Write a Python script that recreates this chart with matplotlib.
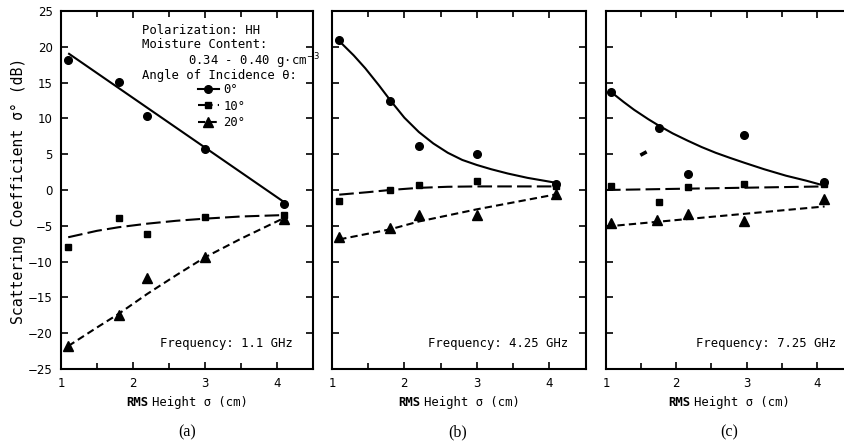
import numpy as np
import matplotlib
matplotlib.use("Agg")
import matplotlib.pyplot as plt
from matplotlib.lines import Line2D
from matplotlib.legend_handler import HandlerLine2D
from matplotlib.offsetbox import TextArea, HPacker, AnnotationBbox
from matplotlib.path import Path

# ---------------- data ----------------
# measured points (x = RMS height, cm; y = sigma0, dB)
a_x0 = [1.1, 1.8, 2.2, 3.0, 4.1]
a_y0 = [18.2, 15.1, 10.4, 5.7, -1.9]
a_x10 = [1.1, 1.8, 2.2, 3.0, 4.1]
a_y10 = [-8.0, -3.9, -6.1, -3.8, -3.5]
a_x20 = [1.1, 1.8, 2.2, 3.0, 4.1]
a_y20 = [-21.8, -17.4, -12.3, -9.3, -4.0]

b_x0 = [1.1, 1.8, 2.2, 3.0, 4.1]
b_y0 = [20.9, 12.4, 6.1, 5.0, 0.9]
b_x10 = [1.1, 1.8, 2.2, 3.0, 4.1]
b_y10 = [-1.6, 0.0, 0.7, 1.2, 0.6]
b_x20 = [1.1, 1.8, 2.2, 3.0, 4.1]
b_y20 = [-6.5, -5.3, -3.5, -3.5, -0.5]

c_x0 = [1.07, 1.75, 2.17, 2.97, 4.1]
c_y0 = [13.7, 8.7, 2.2, 7.7, 1.1]
c_x10 = [1.07, 1.75, 2.17, 2.97, 4.1]
c_y10 = [0.6, -1.7, 0.4, 0.8, 0.9]
c_x20 = [1.07, 1.72, 2.17, 2.97, 4.1]
c_y20 = [-4.6, -4.2, -3.3, -4.3, -1.3]
c_xstray = [1.52]
c_ystray = [5.1]

# fitted curves
a_fx0 = [1.1, 4.1]
a_fy0 = [19.1, -1.7]
a_fx10 = [1.1, 1.5, 1.8, 2.2, 2.6, 3.0, 3.5, 4.1]
a_fy10 = [-6.6, -5.7, -5.2, -4.7, -4.3, -4.0, -3.7, -3.5]
a_fx20 = [1.1, 1.5, 1.8, 2.2, 2.6, 3.0, 3.5, 4.1]
a_fy20 = [-21.8, -19.2, -17.3, -14.5, -11.9, -9.4, -6.8, -3.9]

b_fx0 = [1.1, 1.3, 1.46, 1.65, 1.8, 2.0, 2.2, 2.4, 2.6, 2.8, 3.0, 3.2, 3.43, 3.7, 4.1]
b_fy0 = [20.8, 18.8, 17.0, 14.6, 12.6, 10.1, 8.1, 6.5, 5.2, 4.2, 3.5, 2.9, 2.3, 1.7, 1.0]
b_fx10 = [1.1, 1.5, 1.8, 2.2, 2.6, 3.0, 4.1]
b_fy10 = [-0.65, -0.3, 0.0, 0.3, 0.45, 0.5, 0.5]
b_fx20 = [1.1, 1.8, 2.2, 3.0, 4.1]
b_fy20 = [-6.9, -5.5, -4.4, -2.7, -0.6]

c_fx0 = [1.07, 1.25, 1.4, 1.6, 1.75, 1.95, 2.16, 2.36, 2.56, 2.76, 2.97, 3.25, 3.56, 3.85, 4.11]
c_fy0 = [13.7, 12.3, 11.2, 9.9, 9.0, 7.9, 6.9, 6.0, 5.2, 4.5, 3.8, 2.9, 2.0, 1.3, 0.6]
c_fx10 = [1.0, 4.11]
c_fy10 = [0.0, 0.5]
c_fx20 = [1.0, 4.11]
c_fy20 = [-5.1, -2.3]

y_ticks = [-25, -20, -15, -10, -5, 0, 5, 10, 15, 20, 25]
x_ticks = [1, 2, 3, 4]
x_minor = [1.5, 2.5, 3.5]
legend_labels = ["0°", "10°", "20°"]
freq_labels = ["Frequency: 1.1 GHz", "Frequency: 4.25 GHz", "Frequency: 7.25 GHz"]
panel_labels = ["(a)", "(b)", "(c)"]

# ---------------- style ----------------
MONO = "DejaVu Sans Mono"
plt.rcParams["font.family"] = ["DejaVu Sans"]
W, H = 844, 448
fig = plt.figure(figsize=(W / 100, H / 100), dpi=100)
fig.patch.set_facecolor("white")

def add_ax(l, r, t, b):
    return fig.add_axes([l / W, 1 - b / H, (r - l) / W, (b - t) / H])

axes = [add_ax(61, 313, 11, 369), add_ax(332, 586, 11, 369), add_ax(606, 852, 11, 369)]
xlims = [(1, 4.5), (1, 4.51), (1, 4.5)]

LW = 1.5
styles = {
    0: dict(ls="-", marker="o", ms=5.5),
    10: dict(ls=(0, (7, 2.5)), marker="s", ms=5),
    20: dict(ls=(0, (3.5, 2)), marker="^", ms=6.5),
}

data = [
    (a_x0, a_y0, a_x10, a_y10, a_x20, a_y20, a_fx0, a_fy0, a_fx10, a_fy10, a_fx20, a_fy20),
    (b_x0, b_y0, b_x10, b_y10, b_x20, b_y20, b_fx0, b_fy0, b_fx10, b_fy10, b_fx20, b_fy20),
    (c_x0, c_y0, c_x10, c_y10, c_x20, c_y20, c_fx0, c_fy0, c_fx10, c_fy10, c_fx20, c_fy20),
]
freq_x = [(293 - 61) / 252, (568 - 332) / 254, (836 - 606) / 246]

for i, ax in enumerate(axes):
    (x0, y0, x10, y10, x20, y20, fx0, fy0, fx10, fy10, fx20, fy20) = data[i]
    for fx, fy, key in ((fx0, fy0, 0), (fx10, fy10, 10), (fx20, fy20, 20)):
        ax.plot(fx, fy, color="black", lw=LW, ls=styles[key]["ls"], solid_capstyle="butt",
                solid_joinstyle="round")
    for x, y, key in ((x0, y0, 0), (x10, y10, 10), (x20, y20, 20)):
        ax.plot(x, y, ls="none", marker=styles[key]["marker"], ms=styles[key]["ms"],
                color="black", mec="black")
    ax.set_xlim(*xlims[i])
    ax.set_ylim(-25, 25)
    ax.set_xticks(x_ticks)
    ax.set_xticks(x_minor, minor=True)
    ax.set_yticks(y_ticks)
    ax.tick_params(which="both", direction="in", top=True, right=(i < 2), width=1.2)
    ax.tick_params(which="major", length=5, labelsize=8.5, pad=6)
    ax.tick_params(which="minor", length=4)
    if i > 0:
        ax.set_yticklabels([])
    for s in ax.spines.values():
        s.set_linewidth(1.5)
    if i == 2:
        ax.spines["right"].set_visible(False)
    ax.text(freq_x[i], 0.07, freq_labels[i], transform=ax.transAxes, ha="right",
            va="center", family=MONO, fontsize=8.8)
    # x label with bold "RMS"
    box = HPacker(children=[TextArea("RMS", textprops=dict(family=MONO, weight="bold", size=8.8)),
                            TextArea("Height σ (cm)", textprops=dict(family=MONO, size=8.8))],
                  align="baseline", pad=0, sep=3)
    ab = AnnotationBbox(box, (0.5, (369 - 402) / 358), xycoords="axes fraction",
                        frameon=False, box_alignment=(0.5, 0.5), annotation_clip=False)
    ax.add_artist(ab)

# stray mark in panel c
stray = Path([(-1, -0.55), (1, 0.55)], [Path.MOVETO, Path.LINETO])
axes[2].plot(c_xstray, c_ystray, ls="none", marker=stray, ms=4.5, mew=2.6, color="black",
             solid_capstyle="round")

# y label
fig.text(18 / W, 1 - 191 / H, "Scattering Coefficient σ° (dB)", rotation=90,
         ha="center", va="center", family=MONO, fontsize=10.6)

# panel labels
for ax, lab in zip(axes, panel_labels):
    pos = ax.get_position()
    cx = (pos.x0 + min(pos.x1, (pos.x0 * W + 252) / W)) / 2
    fig.text(cx, 1 - 432 / H, lab, ha="center", va="center",
             family="Liberation Serif", fontsize=11.5)

# annotation block in panel a
ax = axes[0]
tx = (142 - 61) / 252
ax.text(tx, (369 - 30) / 358, "Polarization: HH", transform=ax.transAxes, family=MONO,
        fontsize=8.8, va="center", ha="left")
ax.text(tx, (369 - 44) / 358, "Moisture Content:", transform=ax.transAxes, family=MONO,
        fontsize=8.8, va="center", ha="left")
ax.text((188 - 61) / 252, (369 - 61) / 358, "0.34 - 0.40 g·cm$^{-3}$", transform=ax.transAxes,
        family=MONO, fontsize=8.8, va="center", ha="left")
ax.text(tx, (369 - 76) / 358, "Angle of Incidence θ:", transform=ax.transAxes, family=MONO,
        fontsize=8.8, va="center", ha="left")


class LeftMarkerHandler(HandlerLine2D):
    def get_xdata(self, legend, xdescent, ydescent, width, height, fontsize):
        return [-xdescent, -xdescent + width], [-xdescent]


handles = [Line2D([], [], color="black", lw=LW, ls=styles[k]["ls"], marker=styles[k]["marker"],
                  ms=styles[k]["ms"]) for k in (0, 10, 20)]
leg = ax.legend(handles, legend_labels, loc="upper left",
                bbox_to_anchor=((198 - 61) / 252, (369 - 83) / 358),
                frameon=False, borderpad=0, borderaxespad=0, handlelength=1.7,
                handletextpad=0.35, labelspacing=0.3, numpoints=1,
                prop=dict(family=MONO, size=8.8),
                handler_map={Line2D: LeftMarkerHandler()})

fig.savefig("out.png", dpi=100, facecolor="white")
